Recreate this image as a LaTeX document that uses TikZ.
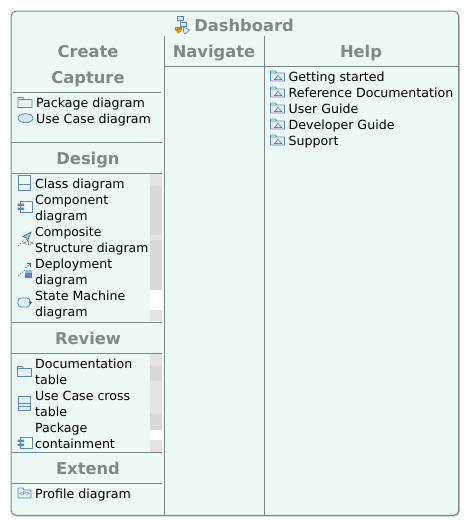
\documentclass[tikz,border=0pt]{standalone}
\usepackage{fontspec}
\setmainfont{DejaVu Sans}
\usetikzlibrary{arrows.meta}
\definecolor{panel}{HTML}{ECF9F4}
\definecolor{rule}{HTML}{758A86}
\definecolor{head}{HTML}{7F8985}
\definecolor{icon}{HTML}{5A88B8}
\definecolor{icondark}{HTML}{3F6A96}
\definecolor{iconfill}{HTML}{D6E6F4}
\definecolor{barA}{HTML}{D9D9D9}
\definecolor{barB}{HTML}{E3E3E3}
\tikzset{
  heading/.style={font=\bfseries\fontsize{16.3}{18}\selectfont,text=head,inner sep=0pt,anchor=base},
  item/.style={font=\fontsize{12.6}{16}\selectfont,text=black,inner sep=0pt,anchor=north west,align=left},
  sep/.style={draw=rule,line width=0.85pt},
  ic/.style={draw=icon,line width=0.75pt},
  icf/.style={draw=icon,fill=iconfill,line width=0.75pt},
  folder/.pic={\draw[ic,fill=iconfill!40!panel] (0,2)--(0,0)--(5,0)--(6,2)--(14,2)--(14,10)--(0,10)--cycle (0,2)--(6,2);},
  helpfolder/.pic={\draw[ic,fill=iconfill!40!panel] (0,2)--(0,0)--(5,0)--(6,2)--(14,2)--(14,10)--(0,10)--cycle (0,2)--(6,2);
     \draw[icondark,line width=0.5pt] (4,8.5)--(7.5,4.5)--(11,8.5)--cycle;},
  usecase/.pic={\draw[icf] (7.5,4.7) ellipse [x radius=7.5,y radius=4.5];},
  classic/.pic={\draw[ic,fill=panel] (0,0) rectangle (12,15); \draw[ic] (0,9.5)--(12,9.5);},
  tablei/.pic={\draw[ic,fill=iconfill!40!panel] (0,0) rectangle (12,14); \draw[ic] (0,7)--(12,7) (0,10.5)--(12,10.5);},
  compo/.pic={\draw[ic,fill=panel] (3,0) rectangle (14.5,11); \fill[icon!80!gray] (0,2.5) rectangle (6.5,5) (0,6.5) rectangle (6.5,9);},
  composite/.pic={\draw[icon,line width=0.7pt,dash pattern=on 1.5pt off 1.2pt] (0,14)--(6,8);
    \draw[icondark,line width=0.6pt,fill=icon!50!panel] (13,0)--(5,4.5)--(8,6)--(9.5,9)--cycle;
    \node[inner sep=0pt,font=\fontsize{6}{6}\selectfont,text=black!75] at (10.5,11.5) {<I>};},
  deploy/.pic={\draw[icon,line width=0.7pt,dash pattern=on 1.5pt off 1.2pt] (0,13)--(7,7);
    \draw[icondark,line width=0.7pt,dash pattern=on 1.5pt off 1pt] (7.5,5)--(12,1);
    \draw[icondark,line width=0.7pt] (9,0.7)--(12.5,0.7)--(12.5,4);
    \fill[icon] (7,7) rectangle (14,15);\fill[icon!55!panel] (7,7) rectangle (14,9.5);},
  statem/.pic={\draw[ic,fill=iconfill!40!panel,rounded corners=3pt] (0,0) rectangle (12,9); \fill[icondark] (12.3,4.5) circle (1.8);},
  profile/.pic={\draw[ic,fill=iconfill!40!panel] (0,2)--(0,0)--(5,0)--(6,2)--(13,2)--(13,10)--(0,10)--cycle; \node[inner sep=0pt,font=\fontsize{5}{5}\selectfont,text=icondark] at (6.5,6) {<P>};},
  dashb/.pic={\draw[ic,line width=0.6pt] (6,4)--(6,16) (6,9)--(9,9);
     \draw[ic,fill=iconfill,line width=0.6pt] (3,0) rectangle (9,4);
     \draw[ic,fill=iconfill,line width=0.6pt] (6,6.5) rectangle (12,10.5);
     \draw[ic,fill=iconfill!50!panel,line width=0.6pt] (9.5,11)--(15.5,14)--(11,18)--(9.5,15.5)--cycle;
     \fill[orange!85!yellow] (4.5,10.5)--(8,14)--(4.5,18)--(1,14)--cycle;
     \draw[ic,line width=0.5pt] (1.5,11) rectangle (7,13);}
}
\begin{document}
\begin{tikzpicture}[x=1pt,y=-1pt]
\useasboundingbox (0,0) rectangle (471,528);
\fill[white] (0,0) rectangle (471,528);
% panel
\fill[black!22,rounded corners=5pt] (12,12) rectangle (459.8,516.6);
\filldraw[draw=rule,line width=1pt,fill=panel,rounded corners=5pt] (11,11) rectangle (458.7,515.3);
% scrollbars
\fill[barA] (150,174) rectangle (162,321);
\fill[barB] (150,174) rectangle (162,185.5);
\fill[barB] (150,235) rectangle (162,240);
\fill[white] (150,290) rectangle (162,310);
\fill[barB] (150,310) rectangle (162,321);
\fill[barB] (150,354) rectangle (162,451.5);
\fill[barA] (150,366) rectangle (162,381);
\fill[barA] (150,414) rectangle (162,430);
\fill[white] (150,430) rectangle (162,440);
% rules
\coordinate (colA) at (164.5,36);   \coordinate (colAb) at (164.5,515);
\coordinate (colB) at (264.5,36);   \coordinate (colBb) at (264.5,515);
\draw[sep] (colA)--(colAb);
\draw[sep] (colB)--(colBb);
\draw[sep] (165,66.5)--(458,66.5);
\draw[sep] (13,92.5)--(161,92.5);
\draw[sep] (12,142.5)--(162,142.5);
\draw[sep] (12,173.5)--(162,173.5);
\draw[sep] (12,322.5)--(162,322.5);
\draw[sep] (12,353.5)--(162,353.5);
\draw[sep] (12,452.5)--(162,452.5);
\draw[sep] (12,483.5)--(162,483.5);
% title
\pic at (174,16) {dashb};
\node[heading] (title) at (244,31.5) {Dashboard};
\node[heading] (create) at (88,57) {Create};
\node[heading] (capture) at (88,83) {Capture};
\node[heading] (design) at (88,164) {Design};
\node[heading] (review) at (88,344) {Review};
\node[heading] (extend) at (88,474) {Extend};
\node[heading] (navigate) at (214,57) {Navigate};
\node[heading] (helpH) at (361,57) {Help};
% Capture
\pic at (18,97.5) {folder};
\node[item] (pkg) at (36,95.8) {\strut Package diagram};
\pic at (18,113.5) {usecase};
\node[item] (uc) at (36,111.8) {\strut Use Case diagram};
% Design
\pic at (18,175) {classic};
\node[item] (cls) at (35,176.8) {\strut Class diagram};
\pic at (17.5,201) {compo};
\node[item] (cmp) at (35,192.8) {\strut Component\\diagram};
\pic at (18,232) {composite};
\node[item,font=\fontsize{12.4}{16}\selectfont] (cst) at (35,224.8) {\strut Composite\\Structure diagram};
\pic at (18,263) {deploy};
\node[item] (dep) at (35,256.8) {\strut Deployment\\diagram};
\pic at (18,298) {statem};
\node[item] (sm) at (35,288.8) {\strut State Machine\\diagram};
% Review
\pic at (17.5,366.5) {folder};
\node[item] (doc) at (35,356.8) {\strut Documentation\\table};
\pic at (18,396) {tablei};
\node[item] (ucc) at (35,388.8) {\strut Use Case cross\\table};
\pic at (17.5,437) {compo};
\node[item] (pc) at (35,420.8) {\strut Package\\containment};
% Extend
\pic at (18,488) {profile};
\node[item] (prof) at (35,486.8) {\strut Profile diagram};
% Help
\pic at (270.5,71) {helpfolder};
\node[item] (h1) at (288.5,69.8) {\strut Getting started};
\pic at (270.5,87) {helpfolder};
\node[item] (h2) at (288.5,85.8) {\strut Reference Documentation};
\pic at (270.5,103) {helpfolder};
\node[item] (h3) at (288.5,101.8) {\strut User Guide};
\pic at (270.5,119) {helpfolder};
\node[item] (h4) at (288.5,117.8) {\strut Developer Guide};
\pic at (270.5,135) {helpfolder};
\node[item] (h5) at (288.5,133.8) {\strut Support};
\end{tikzpicture}
\end{document}
